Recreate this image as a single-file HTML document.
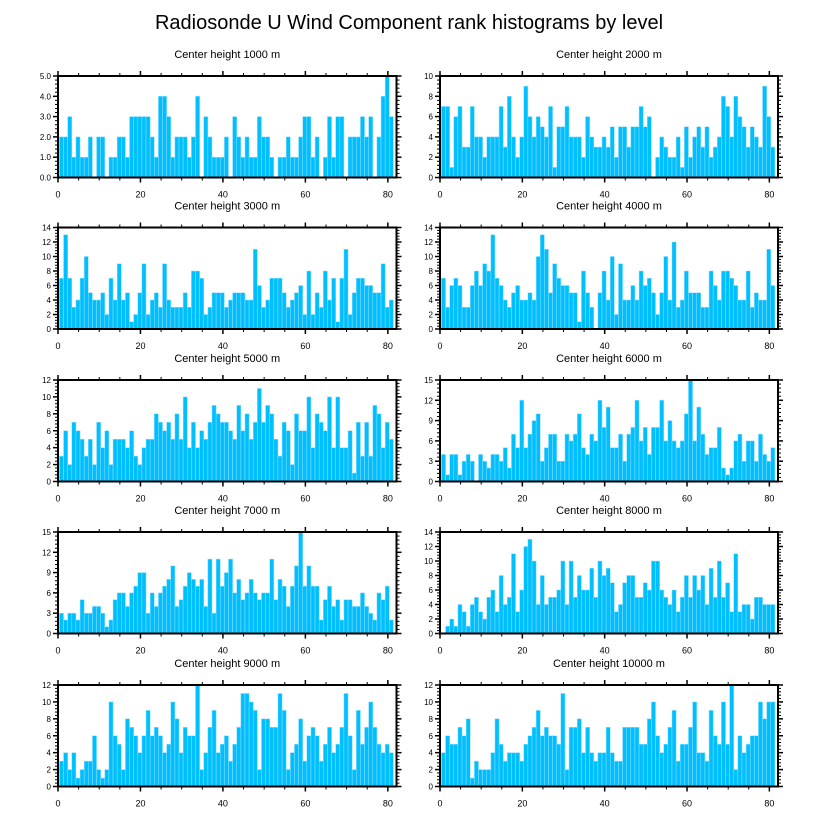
<!DOCTYPE html>
<html><head><meta charset="utf-8"><style>
html,body{margin:0;padding:0;background:#fff;}
svg{display:block;font-family:"Liberation Sans",sans-serif;}
</style></head><body>
<svg id="chart" width="818" height="824">
<text x="409" y="29" text-anchor="middle" font-size="20">Radiosonde U Wind Component rank histograms by level</text>
</svg>
<script>
const titles = ["Center height 1000 m","Center height 2000 m","Center height 3000 m","Center height 4000 m","Center height 5000 m","Center height 6000 m","Center height 7000 m","Center height 8000 m","Center height 9000 m","Center height 10000 m"];
const yMax = [5,10,14,14,12,15,15,14,12,12];
const yStep = [1,2,2,2,2,3,3,2,2,2];
const xTicks = [0,20,40,60,80];
const h1000 = [2,2,3,1,2,1,1,2,0,2,2,0,1,1,2,2,1,3,3,3,3,3,2,1,4,4,3,1,2,2,2,1,2,4,0,3,2,1,1,1,2,0,3,2,1,2,1,1,3,2,2,1,0,1,1,2,1,1,2,3,3,1,2,0,1,3,1,3,3,0,2,2,2,3,2,3,0,2,4,5,3];
const h2000 = [7,7,1,6,7,3,3,7,4,4,2,4,4,4,7,3,8,4,2,4,9,6,4,6,5,4,7,1,5,5,7,4,4,4,2,6,4,3,3,4,3,5,2,5,5,3,5,5,7,5,6,0,2,4,3,2,2,4,1,5,2,4,5,3,5,2,3,4,8,7,4,8,6,5,3,5,4,3,9,6,3];
const h3000 = [7,13,7,3,4,7,10,5,4,4,5,2,7,4,9,4,5,1,2,5,9,2,4,5,3,9,4,3,3,3,5,3,8,8,7,2,3,5,5,5,3,4,5,5,5,4,4,11,6,3,4,7,7,7,5,3,4,5,6,2,8,2,5,3,8,4,7,1,7,11,2,5,7,7,6,6,5,5,9,3,4];
const h4000 = [7,3,6,7,6,3,3,6,8,6,9,8,13,7,6,4,3,5,6,4,4,5,4,10,13,11,5,9,7,6,6,5,5,1,8,5,3,0,5,8,4,10,2,9,4,4,6,4,8,6,7,5,2,5,10,4,12,3,4,8,5,5,5,3,3,8,6,4,8,8,7,6,4,4,8,3,5,4,4,11,6];
const h5000 = [3,6,2,7,6,5,3,5,2,7,4,6,2,5,5,5,4,6,3,2,4,5,5,8,7,6,7,5,8,5,10,4,7,4,6,5,7,9,8,7,7,6,5,9,6,8,5,7,11,7,9,8,5,3,7,6,2,8,6,6,10,4,8,7,6,10,4,10,4,4,6,1,7,3,7,3,9,8,4,7,5];
const h6000 = [4,1,4,4,1,3,4,3,0,4,3,2,4,4,3,5,2,7,5,12,5,7,9,10,3,5,7,7,3,3,7,6,7,10,5,4,7,6,12,8,11,5,5,7,3,7,8,12,6,8,4,8,8,12,6,9,6,5,6,10,15,6,11,7,4,5,5,8,2,1,2,6,7,3,6,6,3,7,4,3,5];
const h7000 = [3,2,3,3,2,5,3,3,4,4,3,1,2,5,6,6,4,6,7,9,9,3,6,4,6,7,8,10,4,5,7,9,8,7,8,4,11,3,11,7,9,11,6,8,5,6,8,6,5,6,6,11,5,8,7,4,7,10,15,7,10,7,7,2,5,7,4,5,2,5,5,4,4,6,4,3,2,6,5,7,2];
const h8000 = [0,1,2,1,4,3,1,4,5,3,2,5,6,3,8,4,5,11,3,6,12,13,10,4,8,4,5,5,6,10,4,10,5,8,6,6,9,5,10,8,9,7,3,4,7,8,8,5,5,7,6,10,10,6,5,4,6,3,5,8,5,8,6,8,4,9,5,10,5,7,3,11,3,4,4,2,5,5,4,4,4];
const h9000 = [3,4,2,4,1,2,3,3,6,2,1,2,10,6,5,2,8,7,6,4,6,9,6,7,6,4,5,10,8,4,7,6,6,12,2,4,7,9,4,5,6,3,5,7,11,11,10,9,2,8,8,7,7,11,9,2,4,5,8,3,6,7,6,3,5,7,4,5,7,11,6,2,9,5,7,10,7,5,4,5,4];
const h10000 = [4,6,5,5,7,6,8,1,3,2,2,2,4,8,5,3,4,4,4,3,5,6,7,9,6,7,6,6,5,11,2,7,7,8,4,7,4,3,4,4,7,4,3,3,7,7,7,7,5,5,8,10,6,4,5,7,9,3,5,5,7,10,4,4,3,9,6,5,10,5,12,2,6,4,5,6,6,10,8,10,10];
const series = [h1000,h2000,h3000,h4000,h5000,h6000,h7000,h8000,h9000,h10000];

const NS="http://www.w3.org/2000/svg";
const svg=document.getElementById('chart');
function mk(tag,attrs,parent){const e=document.createElementNS(NS,tag);for(const k in attrs)e.setAttribute(k,attrs[k]);(parent||svg).appendChild(e);return e;}
const XMAX=82.1, OFF=0.35;
const lefts=[58,440], W=[338.5,338], tops=[76,227.5,380,532,685], H=101.5;
series.forEach((data,p)=>{
  const col=p%2,row=Math.floor(p/2);
  const L=lefts[col],T=tops[row],Wd=W[col];
  const xs=v=>L+v/XMAX*Wd;
  const ys=v=>T+H-v/yMax[p]*H;
  const g=mk('g',{});
  
  
  const t=mk('text',{x:L+Wd/2,y:T-18,'text-anchor':'middle','font-size':'11'},g);
  t.textContent=titles[p];
  
  
  data.forEach((v,i)=>{
    if(v<=0)return;
    const r=mk('rect',{x:xs(i+OFF),y:ys(v),width:xs(i+OFF+1)-xs(i+OFF),height:ys(0)-ys(v),fill:'#00BFFF',stroke:'#8ee0ff','stroke-width':'0.5'},g);
    
    
  });
  const box=mk('rect',{x:L,y:T,width:Wd,height:H,fill:'none',stroke:'#000','stroke-width':'2'},g);
  
  
  for(let v=0;v<=XMAX;v+=5){
    const x=xs(v),maj=v%20===0,len=maj?5:3;
    mk('line',{x1:x,x2:x,y1:T+H,y2:T+H+len,stroke:'#000','stroke-width':maj?1.5:1},g);
    mk('line',{x1:x,x2:x,y1:T,y2:T-len,stroke:'#000','stroke-width':maj?1.5:1},g);
  }
  xTicks.forEach(v=>{
    const tx=mk('text',{x:xs(v),y:T+H+20,'text-anchor':'middle','font-size':'9'},g);
    tx.textContent=v;
    
    
  });
  const minor=yStep[p]/5;
  for(let k=0;k*minor<=yMax[p]+1e-9;k++){
    const v=k*minor,y=ys(v),maj=k%5===0,len=maj?5:3;
    mk('line',{x1:L,x2:L-len,y1:y,y2:y,stroke:'#000','stroke-width':maj?1.5:1},g);
    mk('line',{x1:L+Wd,x2:L+Wd+len,y1:y,y2:y,stroke:'#000','stroke-width':maj?1.5:1},g);
    if(maj){
      const ty=mk('text',{x:L-7,y:y+3,'text-anchor':'end','font-size':'8'},g);
      ty.textContent=p===0?v.toFixed(1):Math.round(v);
      
      
    }
  }
});
</script>
</body></html>
